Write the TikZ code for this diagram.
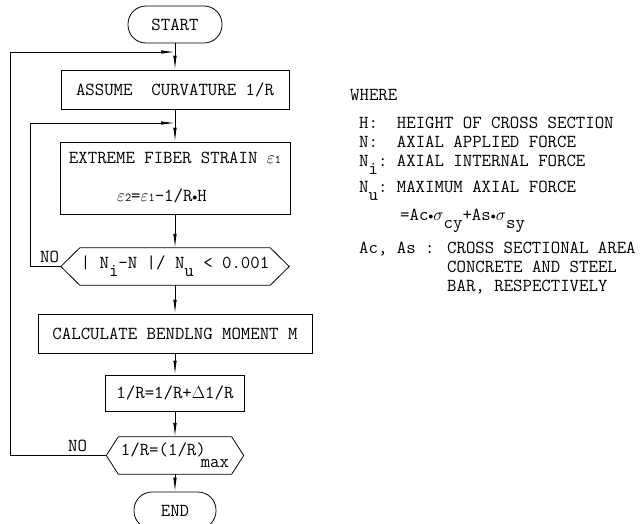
\documentclass[tikz,border=0pt]{standalone}
\usetikzlibrary{arrows.meta}
\newcommand{\chartfont}{\fontsize{18.3}{19}\selectfont\ttfamily}
\newcommand{\low}[1]{\raisebox{-8pt}{#1}}
\newcommand{\sm}[1]{{\fontsize{12}{12}\selectfont #1}}
\newcommand{\dotop}{\raisebox{1pt}{\fontsize{10}{10}\selectfont$\bullet$}}
\tikzset{
  nd_term/.style={
    rectangle, draw, rounded corners=18pt, line width=0.8pt,
    minimum height=37pt, inner sep=0pt, font=\chartfont},
  nd_box/.style={
    rectangle, draw, line width=0.8pt,
    minimum height=39pt, inner sep=0pt, font=\chartfont},
  nd_dec/.style={
    rectangle, minimum height=37pt, inner sep=0pt, font=\chartfont},
  arr/.style={-{Latex[length=14pt,width=3.5pt]},line width=0.8pt},
  ln/.style={line width=0.8pt},
  lbl/.style={font=\chartfont,inner sep=0pt,anchor=base west},
}
\newcommand{\hexframe}[2]{%
  \draw[ln] (#1.west) -- ([xshift=#2]#1.north west)
    -- ([xshift=-#2]#1.north east) -- (#1.east)
    -- ([xshift=-#2]#1.south east) -- ([xshift=#2]#1.south west) -- cycle;
}
\begin{document}
\begin{tikzpicture}[x=1pt,y=-1pt]

\def\cX{175}
\useasboundingbox[fill=white] (0,0) rectangle (644,523);

%% flow chart
\node[nd_term,minimum width=94pt] at (\cX,24.5) (S){START};
\node[nd_box,minimum width=228pt] at (\cX,89.5) (A1){ASSUME~~CURVATURE~1/R};
\node[nd_box,minimum width=230pt,minimum height=72pt,align=center] at (\cX,178) (A2)
  {EXTREME FIBER STRAIN $\varepsilon$\sm{1}\\[19pt]
   \hspace*{-26pt}$\varepsilon$\sm{2}=$\varepsilon$\sm{1}-1/R\dotop H};
\node[nd_dec,minimum width=228pt] at (\cX,266.5) (D1)
  {|~N\low{i}-N~|/~N\low{u}~<~0.001};
\hexframe{D1}{19pt}
\node[nd_box,minimum width=274pt] at (\cX,333.5) (C1){CALCULATE BENDLNG MOMENT M};
\node[nd_box,minimum width=139pt,minimum height=36pt] at (\cX,393) (U1)
  {1/R=1/R+$\Delta$1/R};
\node[nd_dec,minimum width=137pt] at (\cX,455.5) (D2)
  {1/R=(1/R)\hspace{-5pt}\raisebox{-12pt}{max}};
\hexframe{D2}{12pt}
\node[nd_term,minimum width=82pt] at (\cX,510.5) (E){END};

\node[lbl] at (40,262) (N1){NO};
\node[lbl] at (68,451) (N2){NO};

%% legend
\node[lbl] at (350,100.6) (W0){WHERE};
\node[lbl] at (359,128.6) (W1){H:~~HEIGHT OF CROSS SECTION};
\node[lbl] at (359,147.6) (W2){N:~~AXIAL APPLIED FORCE};
\node[lbl] at (359,166.6) (W3){N\low{i}:~AXIAL INTERNAL FORCE};
\node[lbl] at (359,192.6) (W4){N\low{u}:~MAXIMUM AXIAL FORCE};
\node[lbl] at (400,220.6) (W5){=Ac\dotop$\sigma$\low{cy}+As\dotop$\sigma$\low{sy}};
\node[lbl] at (359,253.6) (W6){Ac, As : CROSS SECTIONAL AREA};
\node[lbl] at (447,272.6) (W7){CONCRETE AND STEEL};
\node[lbl] at (447,291.6) (W8){BAR, RESPECTIVELY};

%% connectors
\coordinate (J1) at (\cX,52);
\coordinate (J2) at (\cX,123);
\draw[arr] (S)--(A1);
\draw[arr] (A1)--(A2);
\draw[arr] (A2)--(D1);
\draw[arr] (D1)--(C1);
\draw[arr] (C1)--(U1);
\draw[arr] (U1)--(D2);
\draw[arr] (D2)--(E);
\draw[arr] (D1.west) -- ++(-30,0) |- (J2);
\draw[arr] (D2.west) -- ++(-96,0) |- (J1);

\end{tikzpicture}
\end{document}
